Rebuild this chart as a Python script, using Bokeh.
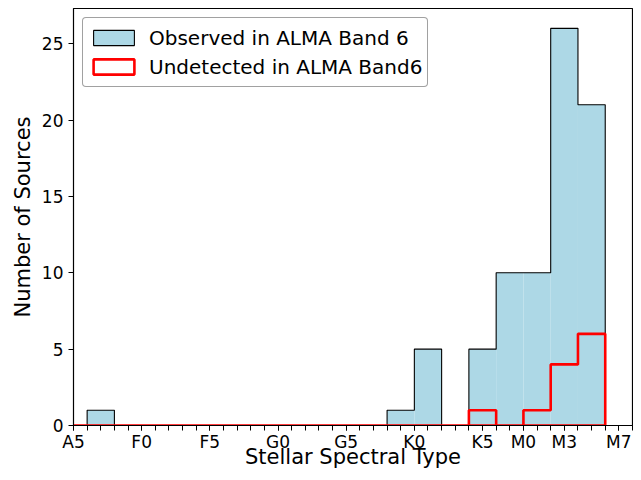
from bokeh.plotting import figure
from bokeh.models import Range1d, FixedTicker, Legend, LegendItem, ColumnDataSource
from bokeh.embed import file_html
from bokeh.resources import INLINE

# Spectral-type numeric scale (A0 = 0, F0 = 10, G0 = 20, K0 = 30, M0 = 38)
tick_positions = [5, 10, 15, 20, 25, 30, 35, 38, 41, 45]
tick_labels = ["A5", "F0", "F5", "G0", "G5", "K0", "K5", "M0", "M3", "M7"]

bin_edges = [4, 6, 8, 10, 12, 14, 16, 18, 20, 22, 24, 26, 28, 30, 32, 34, 36, 38, 40, 42, 44]
observed = [0, 1, 0, 0, 0, 0, 0, 0, 0, 0, 0, 0, 1, 5, 0, 5, 10, 10, 26, 21]
undetected = [0, 0, 0, 0, 0, 0, 0, 0, 0, 0, 0, 0, 0, 0, 0, 1, 0, 1, 4, 6]

FONT = "DejaVu Sans"

p = figure(width=633, height=472, output_backend="svg", toolbar_location=None,
           x_range=Range1d(5, 46), y_range=Range1d(0, 27.3),
           min_border_left=73, min_border_right=1, min_border_top=8, min_border_bottom=47)
p.grid.visible = False
p.outline_line_color = "black"
p.outline_line_width = 1.2
p.background_fill_color = "white"
p.border_fill_color = "white"

def step_path(edges, counts):
    xs, ys = [edges[0]], [0]
    for i, c in enumerate(counts):
        xs += [edges[i], edges[i + 1]]
        ys += [c, c]
    xs.append(edges[-1])
    ys.append(0)
    xs.append(edges[0])
    ys.append(0)
    return xs, ys

src = ColumnDataSource(dict(left=bin_edges[:-1], right=bin_edges[1:], top=observed,
                            bottom=[0] * len(observed)))
p.quad(left="left", right="right", top="top", bottom="bottom", source=src,
       fill_color="lightblue", line_color=None)

ox, oy = step_path(bin_edges, observed)
p.line(ox, oy, line_color="black", line_width=1.1)

ux, uy = step_path(bin_edges, undetected)
p.line(ux, uy, line_color="red", line_width=2.6)

# legend proxies (placed outside the visible range)
leg_obs = p.quad(left=[100], right=[101], top=[1], bottom=[0], fill_color="lightblue",
                 line_color="black", line_width=1.1)
leg_und = p.quad(left=[100], right=[101], top=[1], bottom=[0], fill_color="white",
                 line_color="red", line_width=2.6)

legend = Legend(items=[LegendItem(label="Observed in ALMA Band 6", renderers=[leg_obs]),
                       LegendItem(label="Undetected in ALMA Band6", renderers=[leg_und])],
                location="top_left")
legend.margin = 9
legend.padding = 5
legend.spacing = 0
legend.glyph_width = 51
legend.glyph_height = 19
legend.label_height = 29
legend.label_standoff = 10
legend.label_text_font = FONT
legend.label_text_font_size = "20px"
legend.label_text_color = "black"
legend.border_line_color = "#444444"
legend.border_line_width = 1
legend.border_radius = 4
legend.background_fill_alpha = 1
p.add_layout(legend)

p.xaxis.ticker = FixedTicker(ticks=tick_positions, minor_ticks=list(range(5, 47)))
p.xaxis.major_label_overrides = {t: l for t, l in zip(tick_positions, tick_labels)}
p.yaxis.ticker = FixedTicker(ticks=[0, 5, 10, 15, 20, 25], minor_ticks=[])

for ax in (p.xaxis[0], p.yaxis[0]):
    ax.major_tick_out = 5
    ax.major_tick_in = 0
    ax.minor_tick_out = 5
    ax.minor_tick_in = 0
    ax.major_tick_line_color = "black"
    ax.minor_tick_line_color = "black"
    ax.axis_line_color = "black"
    ax.major_label_text_font = FONT
    ax.major_label_text_font_size = "17px"
    ax.major_label_text_color = "black"
    ax.axis_label_text_font = FONT
    ax.axis_label_text_font_size = "21px"
    ax.axis_label_text_font_style = "normal"
    ax.axis_label_text_color = "black"

p.xaxis.axis_label = "Stellar Spectral Type"
p.yaxis.axis_label = "Number of Sources"
p.xaxis.major_label_standoff = 1
p.xaxis.axis_label_standoff = -10
p.yaxis.major_label_standoff = 5
p.yaxis.axis_label_standoff = 4

open("out.html", "w").write(file_html(p, INLINE))
